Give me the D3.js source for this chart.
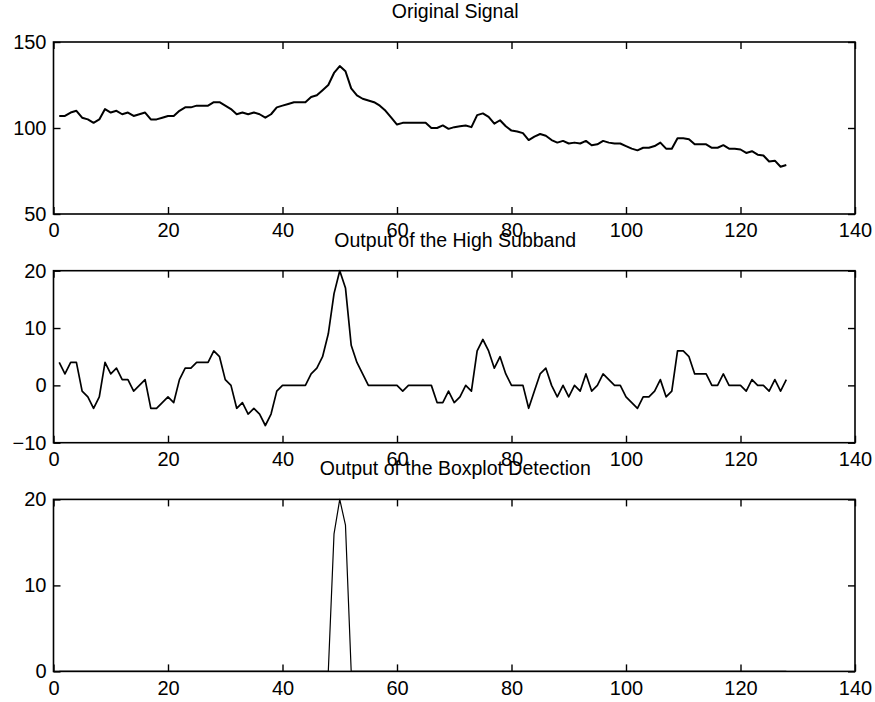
<!DOCTYPE html>
<html>
<head>
<meta charset="utf-8">
<script src="https://cdn.jsdelivr.net/npm/d3@7"></script>
<style>
    body { margin: 0; background: #fff; }
    svg text { font-family: "Liberation Sans", Arial, Helvetica, sans-serif; fill: #000; }
</style>
</head>
<body>
<svg id="chart" width="875" height="702"></svg>
<script>
// samples n = 1..128
const original = [
    107, 107, 109, 110, 106, 105, 103, 105, 111, 109,
    110, 108, 109, 107, 108, 109, 105, 105, 106, 107,
    107, 110, 112, 112, 113, 113, 113, 115, 115, 113,
    111, 108, 109, 108, 109, 108, 106, 108, 112, 113,
    114, 115, 115, 115, 118, 119, 122, 125, 132, 136,
    133, 123, 119, 117, 116, 115, 113, 110, 106, 102,
    103, 103, 103, 103, 103, 100, 100, 101.5, 99.5, 100.5,
    101, 101.5, 100.5, 107.5, 108.5, 106.5, 102.5, 104.5, 101, 98.5,
    98, 97, 93, 95, 96.5, 95.5, 93, 91.5, 92.5, 91,
    91.5, 91, 92.5, 90, 90.5, 92.5, 91.5, 91, 91, 89.5,
    88, 87, 88.5, 88.5, 89.5, 91.5, 88, 88, 94, 94,
    93.5, 90.5, 90.5, 90.5, 88.5, 88.5, 90, 88, 88, 87.5,
    85.5, 86.5, 84.5, 84, 80.5, 81, 77.5, 78.5
];

const highBand = [
    4, 2, 4, 4, -1, -2, -4, -2, 4, 2,
    3, 1, 1, -1, 0, 1, -4, -4, -3, -2,
    -3, 1, 3, 3, 4, 4, 4, 6, 5, 1,
    0, -4, -3, -5, -4, -5, -7, -5, -1, 0,
    0, 0, 0, 0, 2, 3, 5, 9, 16, 20,
    17, 7, 4, 2, 0, 0, 0, 0, 0, 0,
    -1, 0, 0, 0, 0, 0, -3, -3, -1, -3,
    -2, 0, -1, 6, 8, 6, 3, 5, 2, 0,
    0, 0, -4, -1, 2, 3, 0, -2, 0, -2,
    0, -1, 2, -1, 0, 2, 1, 0, 0, -2,
    -3, -4, -2, -2, -1, 1, -2, -1, 6, 6,
    5, 2, 2, 2, 0, 0, 2, 0, 0, 0,
    -1, 1, 0, 0, -1, 1, -1, 1
];

const detection = [
    0, 0, 0, 0, 0, 0, 0, 0, 0, 0,
    0, 0, 0, 0, 0, 0, 0, 0, 0, 0,
    0, 0, 0, 0, 0, 0, 0, 0, 0, 0,
    0, 0, 0, 0, 0, 0, 0, 0, 0, 0,
    0, 0, 0, 0, 0, 0, 0, 0, 16, 20,
    17, 0, 0, 0, 0, 0, 0, 0, 0, 0,
    0, 0, 0, 0, 0, 0, 0, 0, 0, 0,
    0, 0, 0, 0, 0, 0, 0, 0, 0, 0,
    0, 0, 0, 0, 0, 0, 0, 0, 0, 0,
    0, 0, 0, 0, 0, 0, 0, 0, 0, 0,
    0, 0, 0, 0, 0, 0, 0, 0, 0, 0,
    0, 0, 0, 0, 0, 0, 0, 0, 0, 0,
    0, 0, 0, 0, 0, 0, 0, 0
];

const xTicks = [0, 20, 40, 60, 80, 100, 120, 140];
const titles = ["Original Signal", "Output of the High Subband", "Output of the Boxplot Detection"];
const yDomains = [[50, 150], [-10, 20], [0, 20]];
const yTicks = [[50, 100, 150], [-10, 0, 10, 20], [0, 10, 20]];

const svg = d3.select("#chart");
svg.append("rect").attr("width", 875).attr("height", 702).attr("fill", "#fff");

const left = 53.5, right = 855;
const plotH = 172;
const tops = [42, 270.7, 499.4];
const lineWidths = [2, 1.7, 1.2];
const series = [original, highBand, detection];

const x = d3.scaleLinear().domain([0, 140]).range([left, right]);

series.forEach(function (values, p) {
    const top = tops[p];
    const y = d3.scaleLinear().domain(yDomains[p]).range([top + plotH, top]);
    const g = svg.append("g");

    // title
    g.append("text")
        .attr("x", (left + right) / 2 + 1)
        .attr("y", top - 24)
        .attr("text-anchor", "middle")
        .attr("font-size", 19.5)
        .text(titles[p]);

    // bottom axis with labels, ticks pointing in
    g.append("g")
        .attr("transform", `translate(0, ${top + plotH})`)
        .call(d3.axisBottom(x).tickValues(xTicks).tickSizeInner(-7).tickSizeOuter(0).tickPadding(9))
        .call(a => a.select(".domain").remove())
        .call(a => a.selectAll("text").attr("font-size", 20).style("font-family", null));

    g.append("g")
        .attr("transform", `translate(0, ${top})`)
        .call(d3.axisTop(x).tickValues(xTicks).tickSizeInner(-7).tickSizeOuter(0).tickFormat(""))
        .call(a => a.select(".domain").remove());

    g.append("g")
        .attr("transform", `translate(${left}, 0)`)
        .call(d3.axisLeft(y).tickValues(yTicks[p]).tickSizeInner(-7).tickSizeOuter(0).tickPadding(7))
        .call(a => a.select(".domain").remove())
        .call(a => a.selectAll("text").attr("font-size", 20).style("font-family", null));

    g.append("g")
        .attr("transform", `translate(${right}, 0)`)
        .call(d3.axisRight(y).tickValues(yTicks[p]).tickSizeInner(-7).tickSizeOuter(0).tickFormat(""))
        .call(a => a.select(".domain").remove());

    g.selectAll(".tick line").attr("stroke", "#000").attr("stroke-width", 1.4);

    // frame
    g.append("rect")
        .attr("x", left).attr("y", top)
        .attr("width", right - left).attr("height", plotH)
        .attr("fill", "none").attr("stroke", "#000").attr("stroke-width", 1.6);

    const line = d3.line()
        .x((d, i) => x(i + 1))
        .y(d => y(d));

    g.append("path")
        .datum(values)
        .attr("fill", "none")
        .attr("stroke", "#000")
        .attr("stroke-width", lineWidths[p])
        .attr("stroke-linejoin", "round")
        .attr("d", line);
});
</script>
</body>
</html>
